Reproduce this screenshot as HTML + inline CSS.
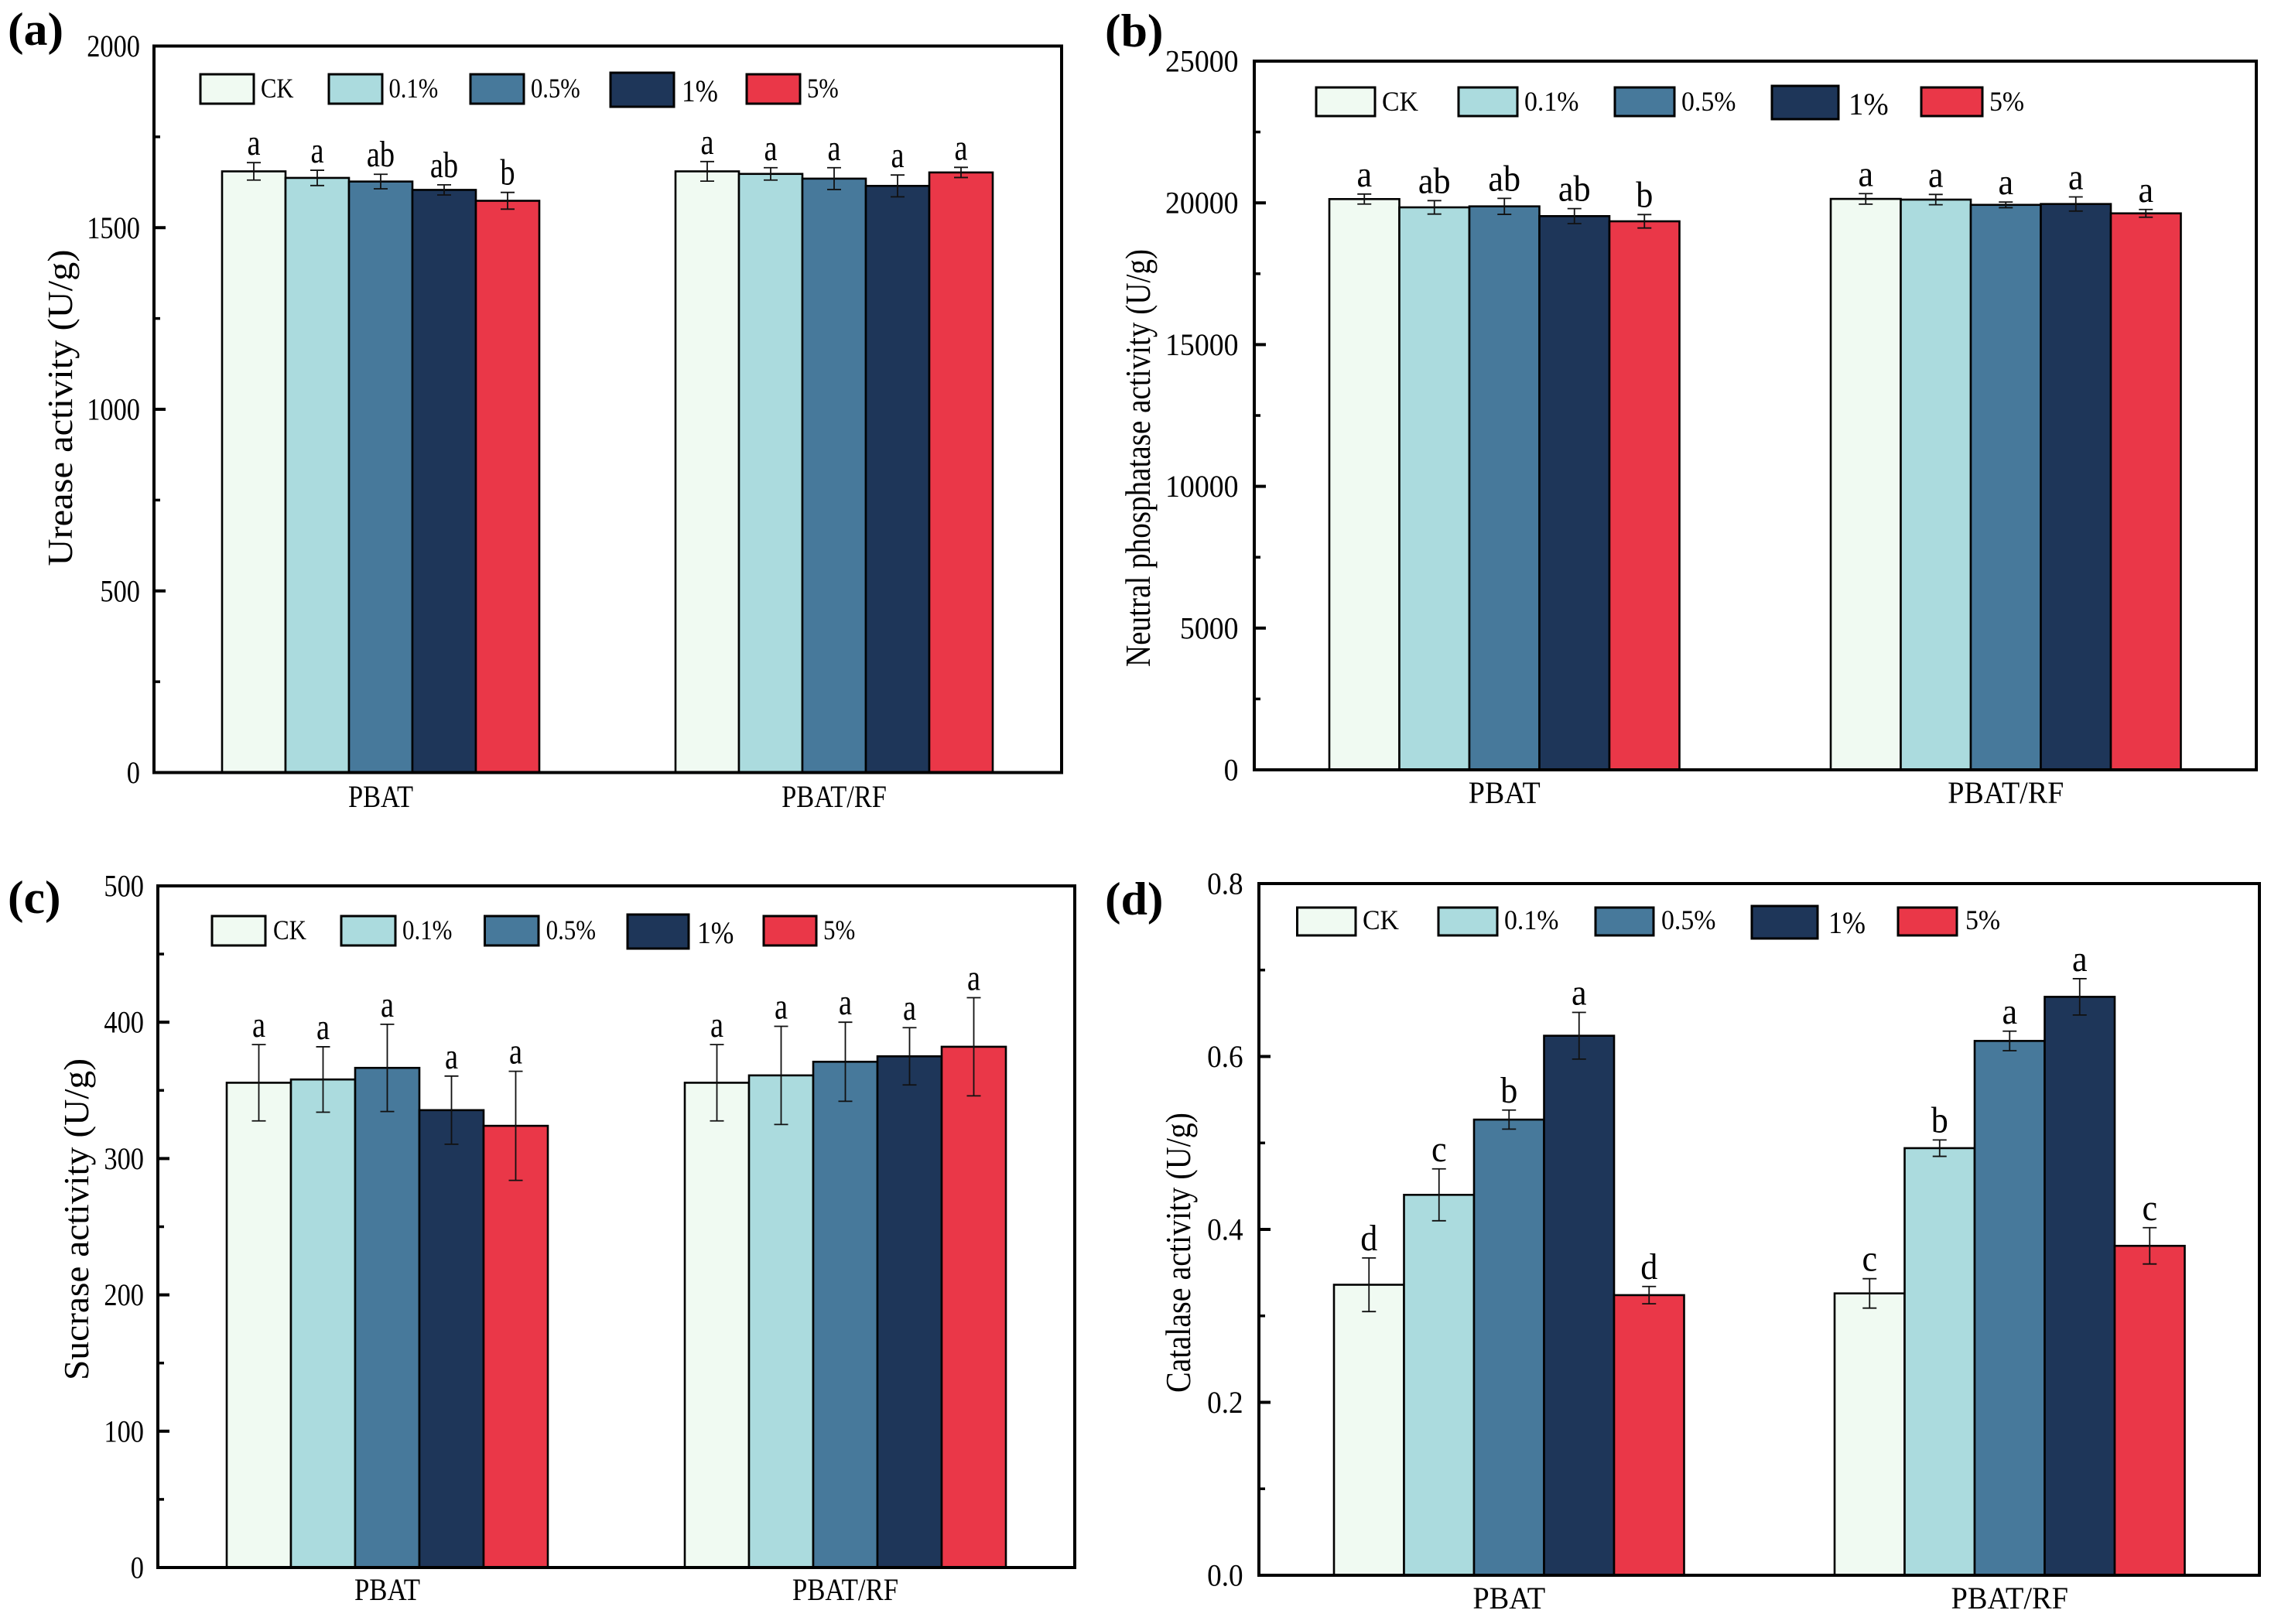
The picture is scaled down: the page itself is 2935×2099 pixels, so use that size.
<!DOCTYPE html>
<html lang="en">
<head>
<meta charset="utf-8">
<title>Soil enzyme activity bar charts</title>
<style>
html,body{margin:0;padding:0;background:#fff;}
svg{display:block;font-family:"Liberation Serif",serif;}
</style>
</head>
<body>
<svg id="figure" xmlns="http://www.w3.org/2000/svg" width="2935" height="2099" viewBox="0 0 2935 2099"></svg>
<script>
const categories = ['PBAT', 'PBAT/RF'];
const seriesNames = ['CK', '0.1%', '0.5%', '1%', '5%'];
const seriesColors = ['#f0faf2', '#abdbde', '#47799b', '#1e3659', '#ea3748'];

const ureaseValues = [[1655, 1637, 1627, 1604, 1574], [1655, 1648, 1635, 1615, 1652]];
const ureaseErrors = [[24, 21, 20, 14, 23], [27, 17, 30, 30, 14]];
const ureaseLetters = [['a', 'a', 'ab', 'ab', 'b'], ['a', 'a', 'a', 'a', 'a']];
const ureaseTicks = ['0', '500', '1000', '1500', '2000'];

const phosphataseValues = [[20134, 19842, 19877, 19533, 19350], [20140, 20115, 19930, 19960, 19630]];
const phosphataseErrors = [[177, 237, 282, 264, 237], [186, 182, 100, 250, 136]];
const phosphataseLetters = [['a', 'ab', 'ab', 'ab', 'b'], ['a', 'a', 'a', 'a', 'a']];
const phosphataseTicks = ['0', '5000', '10000', '15000', '20000', '25000'];

const sucraseValues = [[355.6, 358, 366.5, 335.5, 324], [355.6, 361, 371, 375, 382]];
const sucraseErrors = [[28, 24, 32, 25, 40], [28, 36, 29, 21, 36]];
const sucraseLetters = [['a', 'a', 'a', 'a', 'a'], ['a', 'a', 'a', 'a', 'a']];
const sucraseTicks = ['0', '100', '200', '300', '400', '500'];

const catalaseValues = [[0.336, 0.44, 0.527, 0.624, 0.324], [0.326, 0.494, 0.618, 0.669, 0.381]];
const catalaseErrors = [[0.031, 0.03, 0.011, 0.027, 0.01], [0.017, 0.0095, 0.0113, 0.021, 0.021]];
const catalaseLetters = [['d', 'c', 'b', 'a', 'd'], ['c', 'b', 'a', 'a', 'c']];
const catalaseTicks = ['0.0', '0.2', '0.4', '0.6', '0.8'];

const panels = [
  { id: 'a', label: '(a)', labelX: 10, labelY: 58, title: 'Urease activity (U/g)', titleX: 93, titleY: 527, titleLen: 409,
    left: 199, right: 1372, top: 59.5, bottom: 998.5, yMax: 2000, minorStep: 250, tickRight: 181,
    groupStart: [287, 873], barW: 82, catY: 1043, letterSx: 0.8, tickSx: 0.86, catSx: 0.86, legendSx: 0.85, bigSx: 0.88,
    values: ureaseValues, errors: ureaseErrors, letters: ureaseLetters, ticks: ureaseTicks,
    legendY: 96, legendH: 38, legendBase: 126,
    legendX: [259, 425, 608, 789, 965], legendW: [69, 69, 69, 82, 69], legendTextX: [337, 502.5, 686, 881, 1043] },
  { id: 'b', label: '(b)', labelX: 1428, labelY: 60, title: 'Neutral phosphatase activity (U/g)', titleX: 1486, titleY: 592, titleLen: 540,
    left: 1621, right: 2916, top: 79, bottom: 995, yMax: 25000, minorStep: 2500, tickRight: 1600.5,
    groupStart: [1718, 2366], barW: 90.5, catY: 1038, letterSx: 0.92, tickSx: 0.945, catSx: 0.95, legendSx: 0.94, bigSx: 0.97,
    values: phosphataseValues, errors: phosphataseErrors, letters: phosphataseLetters, ticks: phosphataseTicks,
    legendY: 113, legendH: 37, legendBase: 143,
    legendX: [1701, 1885, 2087, 2290, 2483], legendW: [76, 76, 77, 86, 79], legendTextX: [1786, 1970, 2173, 2389, 2571] },
  { id: 'c', label: '(c)', labelX: 10, labelY: 1180, title: 'Sucrase activity (U/g)', titleX: 114, titleY: 1576, titleLen: 416,
    left: 204, right: 1389, top: 1145, bottom: 2026, yMax: 500, minorStep: 50, tickRight: 186,
    groupStart: [293, 885], barW: 83, catY: 2068, letterSx: 0.8, tickSx: 0.86, catSx: 0.87, legendSx: 0.86, bigSx: 0.89,
    values: sucraseValues, errors: sucraseErrors, letters: sucraseLetters, ticks: sucraseTicks,
    legendY: 1184, legendH: 38, legendBase: 1214,
    legendX: [274, 441, 626.5, 811, 987], legendW: [69, 70, 69.5, 79, 68], legendTextX: [353, 520, 705.6, 901, 1064] },
  { id: 'd', label: '(d)', labelX: 1428, labelY: 1182, title: 'Catalase activity (U/g)', titleX: 1538, titleY: 1619, titleLen: 362,
    left: 1627, right: 2920, top: 1142, bottom: 2036, yMax: 0.8, minorStep: 0.1, tickRight: 1606.6,
    groupStart: [1724, 2371], barW: 90.5, catY: 2079, letterSx: 0.92, tickSx: 0.93, catSx: 0.96, legendSx: 0.94, bigSx: 0.9,
    values: catalaseValues, errors: catalaseErrors, letters: catalaseLetters, ticks: catalaseTicks,
    legendY: 1173, legendH: 36, legendBase: 1201,
    legendX: [1676.5, 1859, 2062, 2264, 2453], legendW: [75.5, 76, 75, 85, 76], legendTextX: [1761, 1944, 2147, 2363, 2540] }
];

const NS = 'http://www.w3.org/2000/svg';
const figure = document.getElementById('figure');

function make(tag, attrs, parent) {
  const node = document.createElementNS(NS, tag);
  Object.keys(attrs).forEach(function (k) { node.setAttribute(k, attrs[k]); });
  parent.appendChild(node);
  return node;
}

function makeText(str, x, y, size, sx, anchor, weight, parent) {
  const node = make('text', {
    transform: 'translate(' + x + ',' + y + ') scale(' + sx + ',1)',
    'font-size': size,
    'text-anchor': anchor,
    'font-weight': weight,
    fill: '#000'
  }, parent);
  node.textContent = str;
  return node;
}

function yScale(p, v) {
  return p.bottom - (v / p.yMax) * (p.bottom - p.top);
}

function xBar(p, group, series) {
  return p.groupStart[group] + series * p.barW;
}

panels.forEach(function (p) {
  const g = make('g', {}, figure);
  
  

  const panelLabel = makeText(p.label, p.labelX, p.labelY, 60, 1.03, 'start', 'bold', g);
  
  

  const title = make('text', {
    transform: 'translate(' + p.titleX + ',' + p.titleY + ') rotate(-90)',
    'font-size': 46,
    'text-anchor': 'middle',
    textLength: p.titleLen,
    lengthAdjust: 'spacingAndGlyphs',
    fill: '#000'
  }, g);
  title.textContent = p.title;
  
  

  categories.forEach(function (cat, gi) {
    seriesNames.forEach(function (name, si) {
      const v = p.values[gi][si];
      const x0 = xBar(p, gi, si);
      const yTop = yScale(p, v);
      const bar = make('rect', {
        x: x0, y: yTop, width: p.barW, height: p.bottom - yTop,
        fill: seriesColors[si], stroke: '#000', 'stroke-width': 2.6
      }, g);
      
      
    });
  });

  categories.forEach(function (cat, gi) {
    seriesNames.forEach(function (name, si) {
      const v = p.values[gi][si];
      const e = p.errors[gi][si];
      const cx = xBar(p, gi, si) + p.barW / 2;
      const yHi = yScale(p, v + e);
      const yLo = yScale(p, v - e);
      const err = make('path', {
        d: 'M' + (cx - 9) + ' ' + yHi + 'H' + (cx + 9) + 'M' + cx + ' ' + yHi + 'V' + yLo + 'M' + (cx - 9) + ' ' + yLo + 'H' + (cx + 9),
        fill: 'none', stroke: '#111', 'stroke-width': 1.8
      }, g);
      
      

      const letter = makeText(p.letters[gi][si], cx, yHi - 10, 48, p.letterSx, 'middle', 'normal', g);
      
      
    });

    const center = p.groupStart[gi] + p.barW * 2.5;
    const catLabel = makeText(cat, center, p.catY, 40, p.catSx, 'middle', 'normal', g);
    
    
  });

  const frame = make('rect', {
    x: p.left, y: p.top, width: p.right - p.left, height: p.bottom - p.top,
    fill: 'none', stroke: '#000', 'stroke-width': 4
  }, g);
  
  

  const majorStep = p.yMax / (p.ticks.length - 1);
  p.ticks.forEach(function (t, i) {
    const y = yScale(p, majorStep * i);
    const tick = make('line', { x1: p.left, x2: p.left + 15, y1: y, y2: y, stroke: '#000', 'stroke-width': 4 }, g);
    
    

    const tickLabel = makeText(t, p.tickRight, y + 13.5, 40, p.tickSx, 'end', 'normal', g);
    
    

    if (i < p.ticks.length - 1) {
      const ym = yScale(p, majorStep * i + p.minorStep);
      const minor = make('line', { x1: p.left, x2: p.left + 8, y1: ym, y2: ym, stroke: '#000', 'stroke-width': 3.5 }, g);
      
      
    }
  });

  const legend = make('g', {}, g);
  
  
  seriesNames.forEach(function (name, si) {
    const isBig = si === 3;
    const swatch = make('rect', {
      x: p.legendX[si],
      y: isBig ? p.legendY - 2 : p.legendY,
      width: p.legendW[si],
      height: isBig ? p.legendH + 6 : p.legendH,
      fill: seriesColors[si], stroke: '#000', 'stroke-width': 3
    }, legend);
    
    

    const lt = makeText(name, p.legendTextX[si], isBig ? p.legendBase + 5 : p.legendBase, isBig ? 40 : 36, isBig ? p.bigSx : p.legendSx, 'start', 'normal', legend);
    
    
  });
});
</script>
</body>
</html>
